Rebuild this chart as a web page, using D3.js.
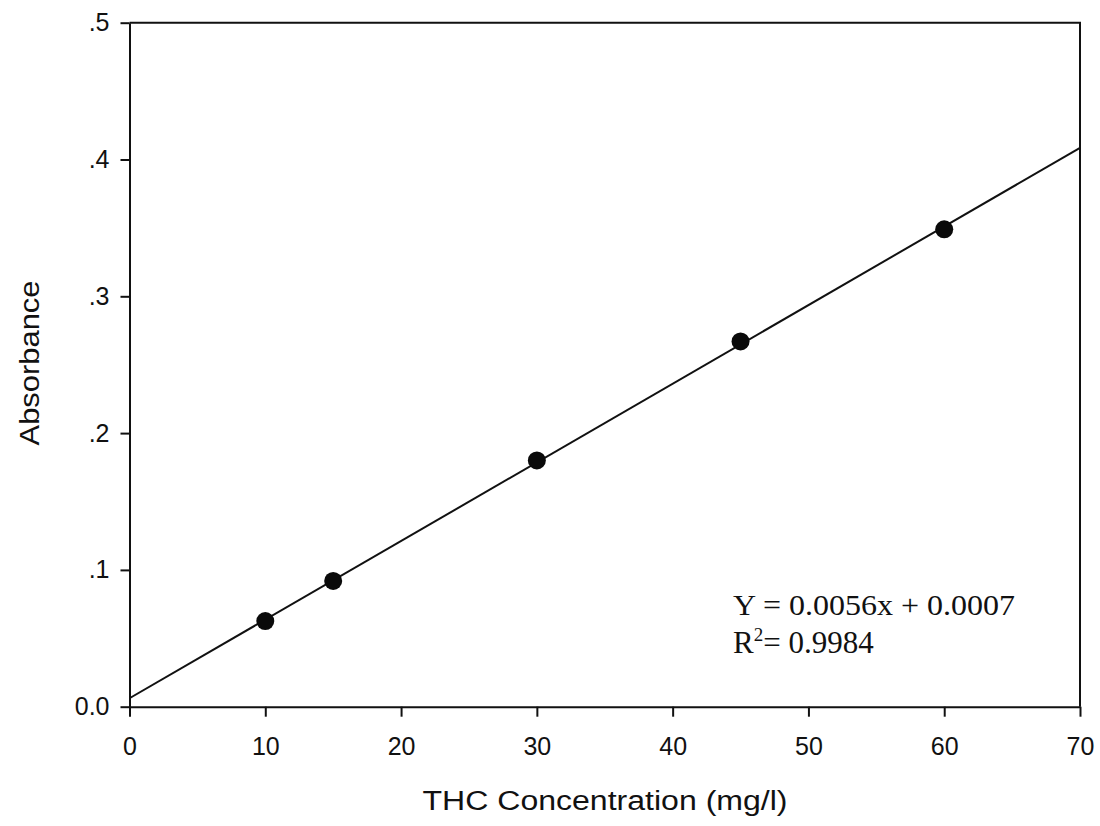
<!DOCTYPE html>
<html>
<head>
<meta charset="utf-8">
<script src="https://cdn.jsdelivr.net/npm/d3@7"></script>
<style>
  body { margin: 0; background: #fff; }
  svg { display: block; }
  .axis path, .axis line { stroke: #111; stroke-width: 2px; }
  .axis text { font-family: "Liberation Sans", Arial, sans-serif; fill: #111; }
  .label { font-family: "Liberation Sans", Arial, sans-serif; fill: #111; }
  .eq { font-family: "Liberation Serif", "Times New Roman", serif; fill: #111; }
</style>
</head>
<body>
<svg width="1100" height="826"></svg>
<script>
// **** data ****
var concentration = [10, 15, 30, 45, 60];
var absorbance = [0.0626, 0.0919, 0.180, 0.267, 0.349];

var xTicks = [0, 10, 20, 30, 40, 50, 60, 70];
var yTicks = [0, 0.1, 0.2, 0.3, 0.4, 0.5];
var yTickLabels = ['0.0', '.1', '.2', '.3', '.4', '.5'];

var equationText = 'Y = 0.0056x + 0.0007';
var r2Value = '= 0.9984';

// **** scales, axes and labels ****
var plotLeft = 129.5, plotRight = 1080, plotTop = 22.7, plotBottom = 706.7;

var xScale = d3.scaleLinear().domain([0, 70]).range([plotLeft, plotRight]);
var yScale = d3.scaleLinear().domain([0, 0.5]).range([plotBottom, plotTop]);

var svg = d3.select('svg');

// frame (top and right sides)
svg.append('path')
    .attr('d', 'M' + plotLeft + ',' + plotTop + 'H' + plotRight + 'V' + plotBottom)
    .attr('fill', 'none')
    .attr('stroke', '#111')
    .attr('stroke-width', 2);

svg.append('g').attr('class', 'x axis')
    .attr('transform', 'translate(0,' + plotBottom + ')')
    .call(d3.axisBottom(xScale).tickValues(xTicks).tickSize(10).tickSizeOuter(0).tickPadding(21))
    .selectAll('text').style('font-size', '25px');

svg.append('g').attr('class', 'y axis')
    .attr('transform', 'translate(' + plotLeft + ',0)')
    .call(d3.axisLeft(yScale).tickValues(yTicks).tickSize(9).tickSizeOuter(0).tickPadding(11)
        .tickFormat(function(d, i) { return yTickLabels[i]; }))
    .selectAll('text').style('font-size', '25px');

svg.append('text')
    .attr('class', 'label')
    .attr('x', 605)
    .attr('y', 810)
    .attr('text-anchor', 'middle')
    .attr('textLength', 365)
    .attr('lengthAdjust', 'spacingAndGlyphs')
    .style('font-size', '27px')
    .text('THC Concentration (mg/l)');

svg.append('text')
    .attr('class', 'label')
    .attr('transform', 'translate(39,363) rotate(-90)')
    .attr('text-anchor', 'middle')
    .attr('textLength', 165)
    .attr('lengthAdjust', 'spacingAndGlyphs')
    .style('font-size', '27px')
    .text('Absorbance');

// **** least squares fit through the points ****
var mx = d3.mean(concentration), my = d3.mean(absorbance);
var sxy = d3.sum(concentration, function(x, i) { return (x - mx) * (absorbance[i] - my); });
var sxx = d3.sum(concentration, function(x) { return (x - mx) * (x - mx); });
var slope = sxy / sxx;
var intercept = my - slope * mx;

var fitLine = d3.line()
    .x(function(d) { return xScale(d); })
    .y(function(d) { return yScale(intercept + slope * d); });

svg.append('path')
    .datum([0, 70])
    .attr('d', fitLine)
    .attr('fill', 'none')
    .attr('stroke', '#111')
    .attr('stroke-width', 2);

svg.selectAll('circle.pt')
    .data(concentration)
    .enter()
    .append('circle')
    .attr('class', 'pt')
    .attr('cx', function(d) { return xScale(d); })
    .attr('cy', function(d, i) { return yScale(absorbance[i]); })
    .attr('r', 9)
    .attr('fill', '#0a0a0a');

// **** equation ****
svg.append('text')
    .attr('class', 'eq')
    .attr('x', 733)
    .attr('y', 615)
    .attr('textLength', 282)
    .attr('lengthAdjust', 'spacingAndGlyphs')
    .style('font-size', '30px')
    .text(equationText);

var r2 = svg.append('text')
    .attr('class', 'eq')
    .attr('x', 733)
    .attr('y', 653)
    .style('font-size', '31px');
r2.append('tspan').text('R');
r2.append('tspan').attr('dy', -12).style('font-size', '19px').text('2');
r2.append('tspan').attr('dy', 12).text(r2Value);
</script>
</body>
</html>
